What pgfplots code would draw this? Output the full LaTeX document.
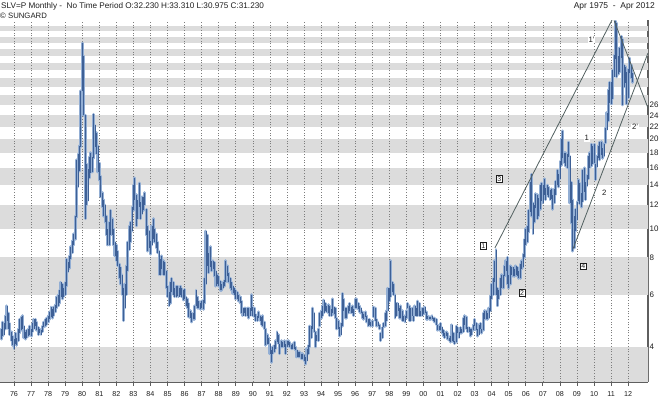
\documentclass[border=0pt]{standalone}
\usepackage{fontspec}
\setmainfont{Liberation Sans}
\usepackage{pgfplots}
\pgfplotsset{compat=1.18}
\usepackage{pgfplotstable}
\definecolor{band}{RGB}{220,220,220}
\definecolor{core}{RGB}{62,96,150}
\definecolor{halo}{RGB}{146,174,212}
\definecolor{trend}{RGB}{82,96,96}
\definecolor{gridc}{RGB}{125,125,125}
\definecolor{axc}{RGB}{95,95,95}
\definecolor{txt}{RGB}{30,30,30}

\pgfplotstableread{
yr m lo hi
1975 4 4.25 4.60
1975 5 4.35 4.85
1975 6 4.40 4.80
1975 7 4.60 5.10
1975 8 4.90 5.50
1975 9 4.60 5.20
1975 10 4.40 4.80
1975 11 4.20 4.50
1975 12 4.05 4.35
1976 1 3.95 4.25
1976 2 4.10 4.45
1976 3 4.05 4.30
1976 4 4.20 4.60
1976 5 4.45 4.95
1976 6 4.55 5.05
1976 7 4.60 5.10
1976 8 4.30 4.70
1976 9 4.25 4.50
1976 10 4.30 4.55
1976 11 4.35 4.60
1976 12 4.40 4.70
1977 1 4.35 4.60
1977 2 4.50 4.80
1977 3 4.60 4.95
1977 4 4.70 4.95
1977 5 4.55 4.85
1977 6 4.40 4.65
1977 7 4.45 4.60
1977 8 4.40 4.55
1977 9 4.50 4.70
1977 10 4.65 4.85
1977 11 4.70 4.95
1977 12 4.75 5.00
1978 1 4.85 5.10
1978 2 4.95 5.25
1978 3 5.05 5.45
1978 4 5.00 5.35
1978 5 5.10 5.45
1978 6 5.25 5.55
1978 7 5.40 5.90
1978 8 5.50 6.00
1978 9 5.60 6.20
1978 10 5.90 6.60
1978 11 5.80 6.50
1978 12 5.90 6.30
1979 1 6.00 6.60
1979 2 6.40 7.90
1979 3 7.15 7.70
1979 4 7.35 8.10
1979 5 7.90 8.70
1979 6 8.30 9.10
1979 7 8.80 9.60
1979 8 9.20 11.00
1979 9 10.90 17.00
1979 10 13.80 17.80
1979 11 15.60 19.00
1979 12 18.80 29.00
1980 1 29.00 42.00
1980 2 24.00 38.00
1980 3 10.80 24.00
1980 4 12.00 16.50
1980 5 12.40 15.80
1980 6 14.80 17.40
1980 7 15.40 18.00
1980 8 15.50 17.40
1980 9 17.20 24.20
1980 10 18.80 22.20
1980 11 17.80 21.00
1980 12 15.50 19.00
1981 1 14.50 16.60
1981 2 12.80 15.00
1981 3 11.80 13.20
1981 4 11.00 12.50
1981 5 10.50 12.00
1981 6 9.50 11.00
1981 7 8.80 10.00
1981 8 8.80 10.50
1981 9 9.50 11.50
1981 10 9.50 10.80
1981 11 8.80 10.00
1981 12 8.10 9.00
1982 1 7.80 8.80
1982 2 7.50 8.40
1982 3 6.80 7.60
1982 4 6.50 7.40
1982 5 6.00 7.00
1982 6 4.90 6.30
1982 7 5.40 6.50
1982 8 6.00 7.50
1982 9 7.20 9.00
1982 10 8.50 10.20
1982 11 9.00 10.50
1982 12 9.80 11.80
1983 1 11.50 14.00
1983 2 12.50 14.80
1983 3 10.20 13.00
1983 4 10.80 12.50
1983 5 11.80 14.20
1983 6 10.80 12.30
1983 7 11.20 12.80
1983 8 11.50 12.80
1983 9 12.00 13.20
1983 10 9.50 11.60
1983 11 8.40 10.20
1983 12 8.60 9.80
1984 1 8.20 9.10
1984 2 8.80 10.20
1984 3 9.20 10.80
1984 4 9.00 10.00
1984 5 8.60 9.60
1984 6 8.30 9.00
1984 7 7.00 8.40
1984 8 7.00 7.90
1984 9 7.30 8.10
1984 10 7.00 7.80
1984 11 7.00 7.70
1984 12 6.30 7.20
1985 1 5.90 6.40
1985 2 5.50 6.10
1985 3 5.60 6.60
1985 4 6.10 6.80
1985 5 6.00 6.60
1985 6 5.90 6.30
1985 7 5.90 6.40
1985 8 5.95 6.40
1985 9 5.90 6.30
1985 10 6.00 6.40
1985 11 5.90 6.30
1985 12 5.75 6.20
1986 1 5.80 6.25
1986 2 5.50 5.90
1986 3 5.40 5.80
1986 4 5.05 5.60
1986 5 5.00 5.30
1986 6 4.85 5.20
1986 7 4.95 5.20
1986 8 4.95 5.50
1986 9 5.50 6.20
1986 10 5.40 5.90
1986 11 5.40 5.70
1986 12 5.35 5.60
1987 1 5.40 5.70
1987 2 5.35 5.75
1987 3 5.60 6.80
1987 4 6.50 9.80
1987 5 7.50 9.50
1987 6 7.10 8.30
1987 7 7.40 8.70
1987 8 7.20 7.80
1987 9 7.30 7.80
1987 10 6.90 7.70
1987 11 6.40 7.20
1987 12 6.50 7.00
1988 1 6.40 6.90
1988 2 6.20 6.65
1988 3 6.20 6.50
1988 4 6.30 6.60
1988 5 6.40 6.70
1988 6 6.60 7.80
1988 7 6.90 7.50
1988 8 6.60 7.10
1988 9 6.30 6.80
1988 10 6.20 6.60
1988 11 6.05 6.40
1988 12 6.00 6.30
1989 1 5.80 6.20
1989 2 5.80 6.10
1989 3 5.70 6.00
1989 4 5.60 5.90
1989 5 5.20 5.70
1989 6 5.10 5.40
1989 7 5.20 5.40
1989 8 5.10 5.40
1989 9 5.10 5.40
1989 10 5.00 5.40
1989 11 5.10 5.40
1989 12 5.30 6.00
1990 1 5.10 5.45
1990 2 5.05 5.40
1990 3 4.90 5.15
1990 4 4.90 5.10
1990 5 5.00 5.25
1990 6 4.90 5.10
1990 7 4.75 5.05
1990 8 4.70 5.10
1990 9 4.60 4.85
1990 10 4.05 4.60
1990 11 4.10 4.40
1990 12 4.10 4.30
1991 1 3.80 4.10
1991 2 3.55 3.90
1991 3 3.80 4.00
1991 4 3.85 4.05
1991 5 3.95 4.20
1991 6 4.15 4.50
1991 7 4.10 4.40
1991 8 3.80 4.10
1991 9 4.00 4.20
1991 10 4.00 4.15
1991 11 4.00 4.20
1991 12 3.80 4.10
1992 1 4.00 4.20
1992 2 4.05 4.20
1992 3 4.00 4.15
1992 4 3.95 4.05
1992 5 3.95 4.10
1992 6 3.95 4.15
1992 7 3.90 4.00
1992 8 3.70 3.90
1992 9 3.70 3.85
1992 10 3.70 3.85
1992 11 3.65 3.80
1992 12 3.65 3.80
1993 1 3.60 3.75
1993 2 3.50 3.70
1993 3 3.60 3.95
1993 4 3.80 4.05
1993 5 4.00 4.70
1993 6 4.30 4.70
1993 7 4.60 5.40
1993 8 4.50 5.20
1993 9 4.00 4.50
1993 10 4.20 4.40
1993 11 4.20 4.60
1993 12 4.70 5.20
1994 1 5.00 5.30
1994 2 5.10 5.50
1994 3 5.20 5.75
1994 4 5.30 5.60
1994 5 5.25 5.50
1994 6 5.20 5.55
1994 7 5.10 5.50
1994 8 5.10 5.35
1994 9 5.20 5.80
1994 10 5.15 5.45
1994 11 5.00 5.40
1994 12 4.60 5.00
1995 1 4.60 4.90
1995 2 4.35 4.65
1995 3 4.40 4.80
1995 4 4.70 6.05
1995 5 5.30 5.80
1995 6 5.00 5.40
1995 7 5.00 5.40
1995 8 5.20 5.50
1995 9 5.30 5.60
1995 10 5.20 5.45
1995 11 5.20 5.50
1995 12 5.10 5.35
1996 1 5.40 5.80
1996 2 5.40 5.80
1996 3 5.35 5.60
1996 4 5.25 5.50
1996 5 5.20 5.40
1996 6 5.00 5.25
1996 7 4.95 5.15
1996 8 5.05 5.25
1996 9 4.85 5.10
1996 10 4.70 4.95
1996 11 4.75 4.95
1996 12 4.70 4.85
1997 1 4.70 4.90
1997 2 5.05 5.45
1997 3 4.90 5.40
1997 4 4.70 4.95
1997 5 4.70 4.85
1997 6 4.60 4.75
1997 7 4.20 4.45
1997 8 4.30 4.65
1997 9 4.65 4.80
1997 10 4.70 5.20
1997 11 4.90 5.30
1997 12 5.30 6.30
1998 1 5.70 6.30
1998 2 5.90 7.80
1998 3 6.10 6.60
1998 4 6.00 6.50
1998 5 5.00 6.00
1998 6 5.10 5.60
1998 7 5.30 5.60
1998 8 5.00 5.40
1998 9 5.00 5.50
1998 10 4.90 5.30
1998 11 4.90 5.10
1998 12 4.85 5.10
1999 1 5.00 5.30
1999 2 5.40 5.60
1999 3 4.90 5.50
1999 4 4.90 5.40
1999 5 5.10 5.40
1999 6 4.90 5.10
1999 7 5.10 5.50
1999 8 5.10 5.40
1999 9 5.10 5.70
1999 10 5.10 5.60
1999 11 5.10 5.30
1999 12 5.10 5.40
2000 1 5.15 5.40
2000 2 5.20 5.45
2000 3 4.95 5.25
2000 4 4.95 5.10
2000 5 4.95 5.05
2000 6 4.95 5.05
2000 7 4.95 5.10
2000 8 4.90 5.00
2000 9 4.85 5.00
2000 10 4.75 4.95
2000 11 4.55 4.75
2000 12 4.55 4.70
2001 1 4.55 4.80
2001 2 4.45 4.65
2001 3 4.35 4.55
2001 4 4.30 4.45
2001 5 4.35 4.50
2001 6 4.25 4.45
2001 7 4.20 4.30
2001 8 4.15 4.35
2001 9 4.20 4.75
2001 10 4.15 4.45
2001 11 4.10 4.20
2001 12 4.15 4.70
2002 1 4.45 4.65
2002 2 4.30 4.50
2002 3 4.45 4.65
2002 4 4.45 4.60
2002 5 4.50 5.00
2002 6 4.75 5.10
2002 7 4.60 5.05
2002 8 4.50 4.65
2002 9 4.50 4.65
2002 10 4.35 4.60
2002 11 4.40 4.60
2002 12 4.55 4.75
2003 1 4.70 4.95
2003 2 4.55 4.80
2003 3 4.35 4.60
2003 4 4.40 4.75
2003 5 4.60 4.80
2003 6 4.45 4.60
2003 7 4.55 5.20
2003 8 4.95 5.30
2003 9 4.95 5.30
2003 10 4.95 5.20
2003 11 5.00 5.40
2003 12 5.30 5.95
2004 1 5.80 6.50
2004 2 6.00 6.80
2004 3 6.60 7.80
2004 4 6.00 8.50
2004 5 5.50 6.30
2004 6 5.80 6.20
2004 7 6.00 6.80
2004 8 6.30 7.00
2004 9 6.30 7.00
2004 10 6.90 7.50
2004 11 7.20 7.80
2004 12 6.50 8.00
2005 1 6.30 7.00
2005 2 6.50 7.50
2005 3 7.00 7.40
2005 4 6.90 7.40
2005 5 6.90 7.30
2005 6 7.00 7.50
2005 7 6.90 7.40
2005 8 6.80 7.20
2005 9 6.80 7.60
2005 10 7.30 7.80
2005 11 7.40 8.20
2005 12 8.00 9.20
2006 1 8.80 10.00
2006 2 9.00 10.20
2006 3 9.70 11.50
2006 4 11.40 14.30
2006 5 11.00 15.20
2006 6 9.60 12.20
2006 7 10.50 12.00
2006 8 11.70 13.10
2006 9 10.80 13.00
2006 10 11.00 12.70
2006 11 11.60 14.00
2006 12 12.40 14.20
2007 1 12.20 14.00
2007 2 13.00 14.70
2007 3 12.50 13.70
2007 4 13.00 14.00
2007 5 12.80 13.80
2007 6 12.50 13.50
2007 7 12.60 13.60
2007 8 11.60 13.00
2007 9 12.20 13.60
2007 10 13.00 14.40
2007 11 14.00 15.70
2007 12 13.80 15.20
2008 1 14.70 16.80
2008 2 16.30 20.00
2008 3 17.20 21.30
2008 4 16.60 18.00
2008 5 16.20 18.00
2008 6 16.00 17.80
2008 7 17.40 19.50
2008 8 12.20 17.50
2008 9 10.40 14.30
2008 10 8.40 12.50
2008 11 8.60 11.00
2008 12 9.80 11.60
2009 1 10.70 12.30
2009 2 12.40 14.60
2009 3 12.10 14.20
2009 4 11.80 13.20
2009 5 12.30 15.70
2009 6 13.30 16.00
2009 7 12.50 14.30
2009 8 13.90 15.10
2009 9 14.70 17.50
2009 10 16.00 18.00
2009 11 16.20 19.20
2009 12 16.50 19.00
2010 1 16.60 19.20
2010 2 14.60 16.50
2010 3 16.10 17.50
2010 4 17.30 19.00
2010 5 17.00 19.50
2010 6 17.60 19.60
2010 7 17.20 18.70
2010 8 17.50 19.30
2010 9 19.40 21.80
2010 10 21.50 24.50
2010 11 23.00 29.30
2010 12 26.50 31.00
2011 1 26.20 31.00
2011 2 27.30 34.00
2011 3 32.40 38.20
2011 4 37.00 49.80
2011 5 32.30 49.00
2011 6 33.00 38.00
2011 7 33.50 40.50
2011 8 37.50 44.20
2011 9 26.00 43.20
2011 10 29.80 35.50
2011 11 30.80 35.00
2011 12 26.20 33.50
2012 1 27.50 34.30
2012 2 33.30 37.40
2012 3 32.00 35.40
2012 4 30.98 33.31
}\silver

\begin{document}
\begin{tikzpicture}
\useasboundingbox (0,0) rectangle (660bp,399bp);
\begin{axis}[
  at={(0bp,17bp)}, anchor=south west,
  scale only axis, width=648bp, height=361.5bp,
  xmin=1975.18, xmax=2013.16,
  ymode=log, ymin=3.05, ymax=50,
  axis x line*=bottom, axis y line*=right,
  axis line style={draw=axc, line width=1.3bp},
  xtick={1976,...,2012},
  xticklabels={76,77,78,79,80,81,82,83,84,85,86,87,88,89,90,91,92,93,94,95,96,97,98,99,00,01,02,03,04,05,06,07,08,09,10,11,12},
  ytick={4,6,8,10,12,14,16,18,20,22,24,26},
  yticklabels={4,6,8,10,12,14,16,18,20,22,24,26},
  tick align=outside,
  x tick style={draw=axc, line width=0.8bp},
  y tick style={draw=none},
  major tick length=4bp,
  xticklabel style={font=\fontsize{7.2}{8}\selectfont, text=txt, inner sep=0pt, yshift=-5bp},
  yticklabel style={font=\fontsize{8}{9}\selectfont, text=txt, inner sep=0pt, anchor=west, xshift=-2.5bp},
  clip=true,
]
% background bands
\fill[band] (axis cs:1975,3) rectangle (axis cs:2014,4);
\fill[band] (axis cs:1975,6) rectangle (axis cs:2014,8);
\fill[band] (axis cs:1975,10) rectangle (axis cs:2014,12);
\fill[band] (axis cs:1975,14) rectangle (axis cs:2014,16);
\fill[band] (axis cs:1975,18) rectangle (axis cs:2014,20);
\fill[band] (axis cs:1975,22) rectangle (axis cs:2014,24);
\fill[band] (axis cs:1975,26) rectangle (axis cs:2014,28);
\fill[band] (axis cs:1975,30) rectangle (axis cs:2014,32);
\fill[band] (axis cs:1975,34) rectangle (axis cs:2014,36);
\fill[band] (axis cs:1975,38) rectangle (axis cs:2014,40);
\fill[band] (axis cs:1975,42) rectangle (axis cs:2014,44);
\fill[band] (axis cs:1975,46) rectangle (axis cs:2014,48);
% dotted year lines
\pgfplotsinvokeforeach{1976,...,2012}{
  \draw[gridc, line width=0.7bp, dash pattern=on 1bp off 1.7bp] (axis cs:#1,3.05) -- (axis cs:#1,50);
}
% halo of the bars
\addplot[draw=none, mark=none, forget plot,
  error bars/.cd, y dir=plus, y explicit, error mark=none,
  error bar style={draw=halo, solid, line width=2.9bp, line cap=round}]
  table[x expr=\thisrow{yr}+(\thisrow{m}-1)/12, y=lo, y error plus expr=\thisrow{hi}-\thisrow{lo}] {\silver};
% core of the bars
\addplot[draw=none, mark=none, forget plot,
  error bars/.cd, y dir=plus, y explicit, error mark=none,
  error bar style={draw=core, solid, line width=0.75bp}]
  table[x expr=\thisrow{yr}+(\thisrow{m}-1)/12, y=lo, y error plus expr=\thisrow{hi}-\thisrow{lo}] {\silver};
% trend lines
\addplot[trend, line width=0.8bp, forget plot] coordinates {(2004.19,8.61) (2011.05,50.2)};
\addplot[trend, line width=0.8bp, forget plot] coordinates {(2011.17,50.0) (2013.16,25.4)};
\addplot[trend, line width=0.8bp, forget plot] coordinates {(2008.77,8.56) (2013.16,38.9)};
% wave labels
\node[fill=white, inner sep=0.7bp, font=\fontsize{7.8}{8}\selectfont, text=txt] at (axis cs:2009.86,43.2) {1'};
\node[fill=white, inner sep=0.7bp, font=\fontsize{7.8}{8}\selectfont, text=txt] at (axis cs:2012.40,21.9) {2'};
\node[fill=white, inner sep=0.7bp, font=\fontsize{7.8}{8}\selectfont, text=txt] at (axis cs:2009.57,20.1) {1};
\node[fill=white, inner sep=0.7bp, font=\fontsize{7.8}{8}\selectfont, text=txt] at (axis cs:2010.60,13.16) {2};
\node[draw=txt, line width=0.5bp, fill=white, inner sep=0.9bp, font=\fontsize{7}{7}\selectfont, text=txt] at (axis cs:2003.51,8.76) {1};
\node[draw=txt, line width=0.5bp, fill=white, inner sep=0.9bp, font=\fontsize{7}{7}\selectfont, text=txt] at (axis cs:2004.45,14.7) {3};
\node[draw=txt, line width=0.5bp, fill=white, inner sep=0.9bp, font=\fontsize{7}{7}\selectfont, text=txt] at (axis cs:2005.78,6.08) {2};
\node[draw=txt, line width=0.5bp, fill=white, inner sep=0.9bp, font=\fontsize{7}{7}\selectfont, text=txt] at (axis cs:2009.37,7.47) {4};
\end{axis}
\node[anchor=west, inner sep=0pt, font=\fontsize{8.2}{10}\selectfont, text=txt] at (1bp,392.7bp) {SLV=P Monthly -~ No Time Period O:32.230 H:33.310 L:30.975 C:31.230};
\node[anchor=west, inner sep=0pt, font=\fontsize{7.8}{9}\selectfont, text=txt] at (0bp,383.5bp) {© SUNGARD};
\node[anchor=east, inner sep=0pt, font=\fontsize{8.5}{10}\selectfont, text=txt] at (655bp,393bp) {Apr 1975~ -~ Apr 2012};
\end{tikzpicture}
\end{document}
